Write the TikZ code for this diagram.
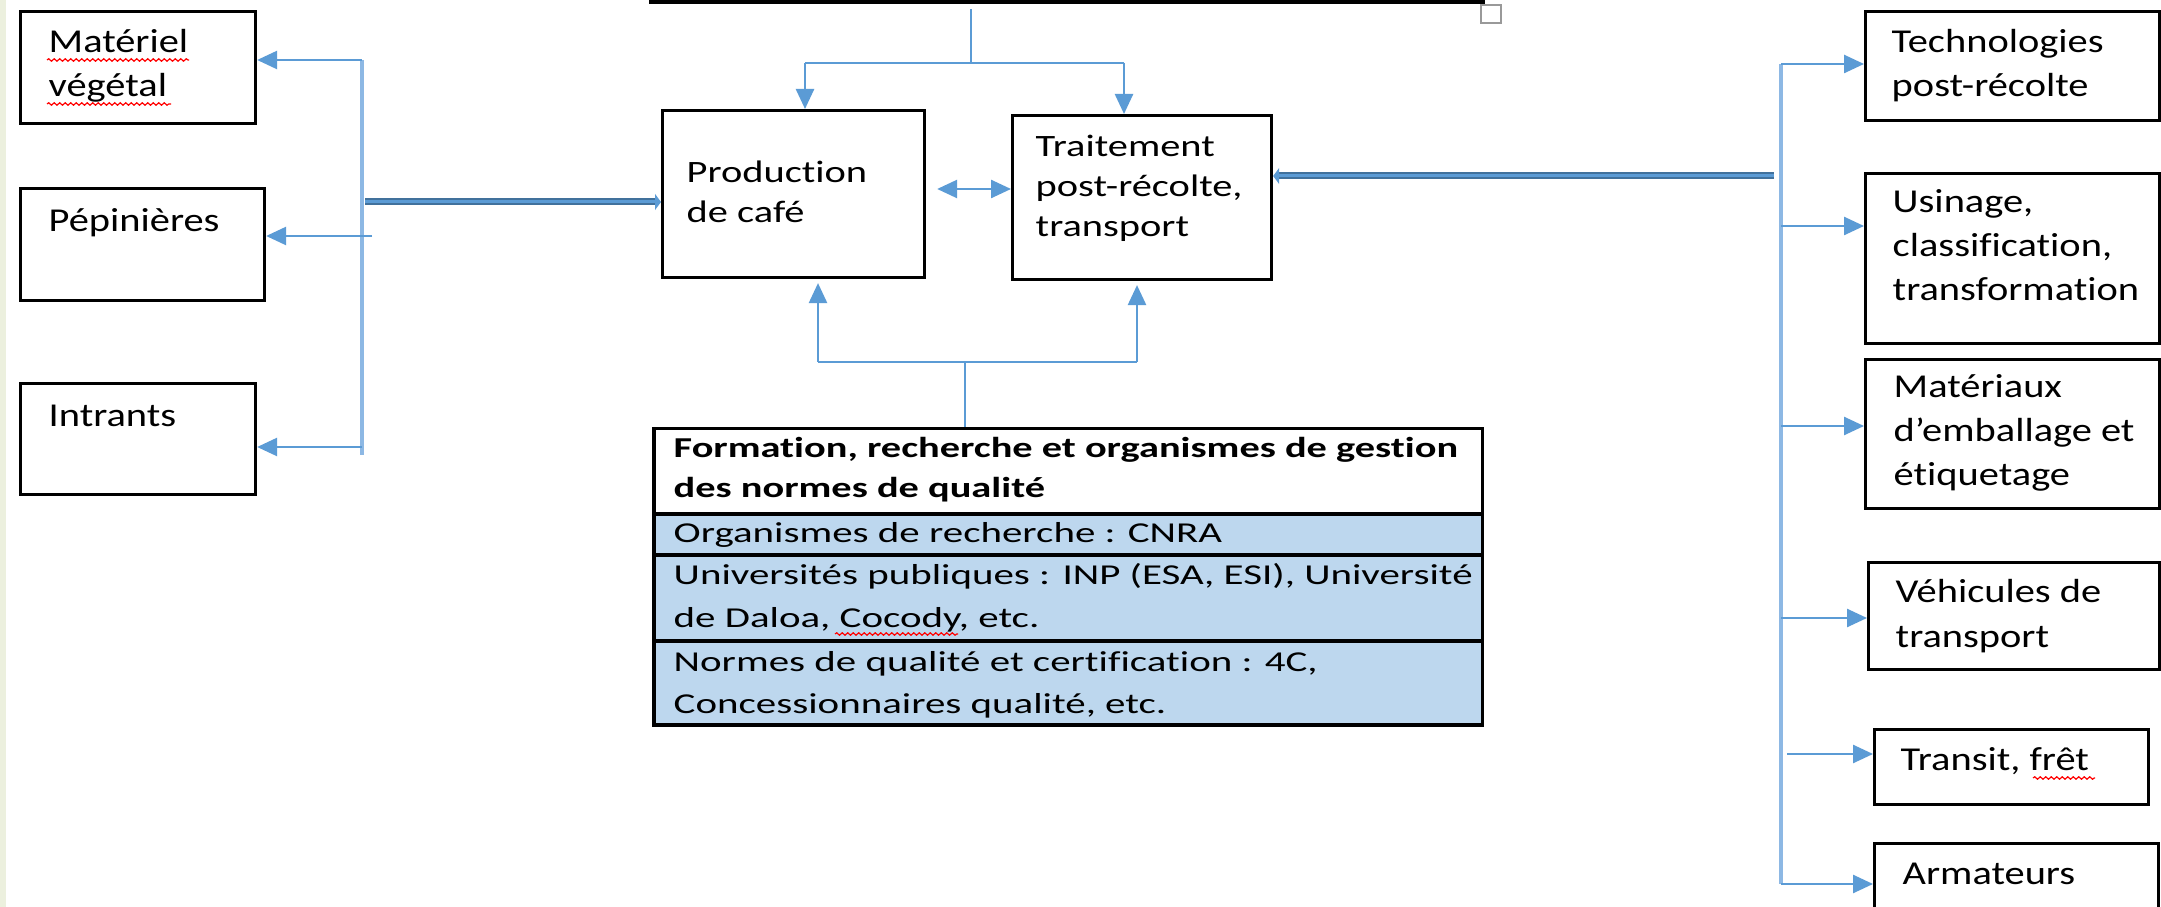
\documentclass[tikz,border=0pt]{standalone}
\usepackage{fontspec}
\setmainfont{Carlito}[Ligatures=CommonOff]
\newfontfamily\sidef[FakeStretch=1.21,Ligatures=CommonOff]{Carlito}
\newfontfamily\midf[FakeStretch=1.30,Ligatures=CommonOff]{Carlito}
\newfontfamily\tabf[FakeStretch=1.42,Ligatures=CommonOff]{Carlito}
\newfontfamily\tabbf[FakeStretch=1.40,Ligatures=CommonOff]{Carlito}
\usetikzlibrary{arrows.meta,decorations.pathmorphing,calc}
\definecolor{ablue}{HTML}{5B9BD5}
\definecolor{bblue}{HTML}{8DB8E4}
\definecolor{dblue}{HTML}{41719C}
\definecolor{tfill}{HTML}{BDD7EE}
\definecolor{stripc}{HTML}{ECF0DE}
\begin{document}
\begin{tikzpicture}[x=0.01cm,y=-0.01cm,
  boxn/.style={draw=black, line width=0.03cm, inner sep=0pt, anchor=north west},
  rown/.style={draw=black, line width=0.035cm, inner sep=0pt, anchor=north west, minimum width=8.28cm},
  st/.style={anchor=base west, inner sep=0pt, font=\sidef\fontsize{9.5}{11}\selectfont},
  mt/.style={anchor=base west, inner sep=0pt, font=\midf\fontsize{8.84}{11}\selectfont},
  tt/.style={anchor=base west, inner sep=0pt, font=\tabf\fontsize{8.2}{11}\selectfont},
  tbt/.style={anchor=base west, inner sep=0pt, font=\tabbf\bfseries\fontsize{8.2}{11}\selectfont},
  arr/.style={draw=ablue, line width=0.025cm, -{Triangle[length=0.2cm,width=0.18cm]}},
  bus/.style={draw=bblue, line width=0.04cm},
  conn/.style={draw=ablue, line width=0.025cm},
  dbl/.style={draw=dblue, double=ablue, line width=0.02cm, double distance=0.03cm},
  squig/.style={draw=red, line width=0.012cm, decorate, decoration={snake, amplitude=0.012cm, segment length=0.055cm}}
]
\useasboundingbox (0,0) rectangle (2161,907);
\clip (0,0) rectangle (2161,907);
\fill[white] (0,0) rectangle (2161,907);
\fill[stripc] (0,0) rectangle (6,907);

% top partial box and small square
\node[draw=black, line width=0.06cm, inner sep=0pt, anchor=south west, minimum width=8.29cm, minimum height=1cm] (top) at (649,4) {};
\node[draw=black!40, line width=0.02cm, inner sep=0pt, minimum width=0.2cm, minimum height=0.18cm] (sq) at (1491,14) {};

% left boxes
\node[boxn, minimum width=2.35cm, minimum height=1.12cm] (mat) at (19,10) {};
\node[boxn, minimum width=2.44cm, minimum height=1.12cm] (pep) at (19,187) {};
\node[boxn, minimum width=2.35cm, minimum height=1.11cm] (intr) at (19,382) {};
\node[st] (matA) at (48,53) {Matériel};
\node[st] (matB) at (48,97) {végétal};
\node[st] (pepA) at (48,232) {Pépinières};
\node[st] (intrA) at (48,427) {Intrants};
\draw[squig] (47,60) -- (189,60);
\draw[squig] (47,104) -- (171,104);

% center boxes
\node[boxn, minimum width=2.62cm, minimum height=1.67cm] (prod) at (661,109) {};
\node[boxn, minimum width=2.59cm, minimum height=1.64cm] (trait) at (1011,114) {};
\node[mt] (prodA) at (686,183) {Production};
\node[mt] (prodB) at (686,223) {de café};
\node[mt] (traitA) at (1035,157) {Traitement};
\node[mt] (traitB) at (1035,197) {post-récolte,};
\node[mt] (traitC) at (1035,237) {transport};

% bottom table
\node[rown, fill=white, minimum height=0.85cm] (hdr) at (652,427) {};
\node[rown, fill=tfill, minimum height=0.41cm] (ra) at (652,512) {};
\node[rown, fill=tfill, minimum height=0.86cm] (rb) at (652,553) {};
\node[rown, fill=tfill, minimum height=0.84cm] (rc) at (652,639) {};
\node[tbt] (hA) at (673,458) {Formation, recherche et organismes de gestion};
\node[tbt] (hB) at (673,498) {des normes de qualité};
\node[tt] (raA) at (673,543) {Organismes de recherche : CNRA};
\node[tt] (rbA) at (673,585) {Universités publiques : INP (ESA, ESI), Université};
\node[tt] (rbB) at (673,627) {de Daloa, Cocody, etc.};
\node[tt] (rcA) at (673,672) {Normes de qualité et certification : 4C,};
\node[tt] (rcB) at (673,713) {Concessionnaires qualité, etc.};
\draw[squig] (835,634) -- (958,634);

% right boxes
\node[boxn, minimum width=2.94cm, minimum height=1.09cm] (tech) at (1864,10) {};
\node[boxn, minimum width=2.94cm, minimum height=1.70cm] (usin) at (1864,172) {};
\node[boxn, minimum width=2.94cm, minimum height=1.49cm] (matx) at (1864,358) {};
\node[boxn, minimum width=2.91cm, minimum height=1.07cm] (veh) at (1867,561) {};
\node[boxn, minimum width=2.74cm, minimum height=0.75cm] (trans) at (1873,728) {};
\node[boxn, minimum width=2.84cm, minimum height=0.90cm] (arm) at (1873,842) {};
\node[st] (techA) at (1891,53) {Technologies};
\node[st] (techB) at (1891,97) {post-récolte};
\node[st] (usinA) at (1892,213) {Usinage,};
\node[st] (usinB) at (1892,257) {classification,};
\node[st] (usinC) at (1892,301) {transformation};
\node[st] (matxA) at (1893,398) {Matériaux};
\node[st] (matxB) at (1893,442) {d’emballage et};
\node[st] (matxC) at (1893,486) {étiquetage};
\node[st] (vehA) at (1895,603) {Véhicules de};
\node[st] (vehB) at (1895,648) {transport};
\node[st] (transA) at (1900,770) {Transit, frêt};
\node[st] (armA) at (1902,884) {Armateurs};
\draw[squig] (2033,778) -- (2095,778);

% left connectors
\coordinate (lbtop) at (362,60);
\coordinate (lbbot) at (362,455);
\coordinate (lbp) at (372,236);
\coordinate (lbi) at (362,447);
\coordinate (lbj) at (365,202);
\draw[bus] (lbtop) -- (lbbot);
\draw[arr] (lbtop) -- (mat.east |- lbtop);
\draw[arr] (lbp) -- (pep.east |- lbp);
\draw[arr] (lbi) -- (intr.east |- lbi);
\draw[dbl] (lbj) -- ([xshift=-0.05cm]prod.west |- lbj);
\draw[draw=ablue, line width=0.01cm, -{Triangle[length=0.06cm,width=0.16cm]}] ([xshift=-0.07cm]prod.west |- lbj) -- (prod.west |- lbj);

% top connectors
\coordinate (tt) at (971,9);
\coordinate (tj) at (971,63);
\coordinate (tl) at (805,63);
\coordinate (tr) at (1124,63);
\draw[conn] (tt) -- (tj);
\draw[conn] (tl) -- (tr);
\draw[arr] (tl) -- (tl |- prod.north);
\draw[arr] (tr) -- (tr |- trait.north);

% double arrow between center boxes
\coordinate (mid) at (970,189);
\draw[draw=ablue, line width=0.025cm, {Triangle[length=0.2cm,width=0.18cm]}-{Triangle[length=0.2cm,width=0.18cm]}, shorten <=0.11cm] (prod.east |- mid) -- (trait.west |- mid);

% bottom connectors
\coordinate (bm) at (965,362);
\coordinate (bl) at (818,362);
\coordinate (br) at (1137,362);
\draw[conn] (bm) -- (bm |- hdr.north);
\draw[conn] (bl) -- (br);
\draw[arr, shorten >=0.04cm] (bl) -- (bl |- prod.south);
\draw[arr, shorten >=0.04cm] (br) -- (br |- trait.south);

% right connectors
\coordinate (rbtop) at (1781,64);
\coordinate (rbbot) at (1781,884);
\coordinate (rj) at (1774,176);
\coordinate (ru) at (1781,226);
\coordinate (rm) at (1781,426);
\coordinate (rv) at (1781,618);
\coordinate (rt) at (1787,754);
\draw[bus] (rbtop) -- (rbbot);
\draw[dbl] (rj) -- ([xshift=0.05cm]trait.east |- rj);
\draw[draw=ablue, line width=0.01cm, -{Triangle[length=0.06cm,width=0.16cm]}] ([xshift=0.07cm]trait.east |- rj) -- (trait.east |- rj);
\draw[arr] (rbtop) -- (tech.west |- rbtop);
\draw[arr] (ru) -- (usin.west |- ru);
\draw[arr] (rm) -- (matx.west |- rm);
\draw[arr] (rv) -- (veh.west |- rv);
\draw[arr] (rt) -- (trans.west |- rt);
\draw[arr] (rbbot) -- (arm.west |- rbbot);
\end{tikzpicture}
\end{document}
